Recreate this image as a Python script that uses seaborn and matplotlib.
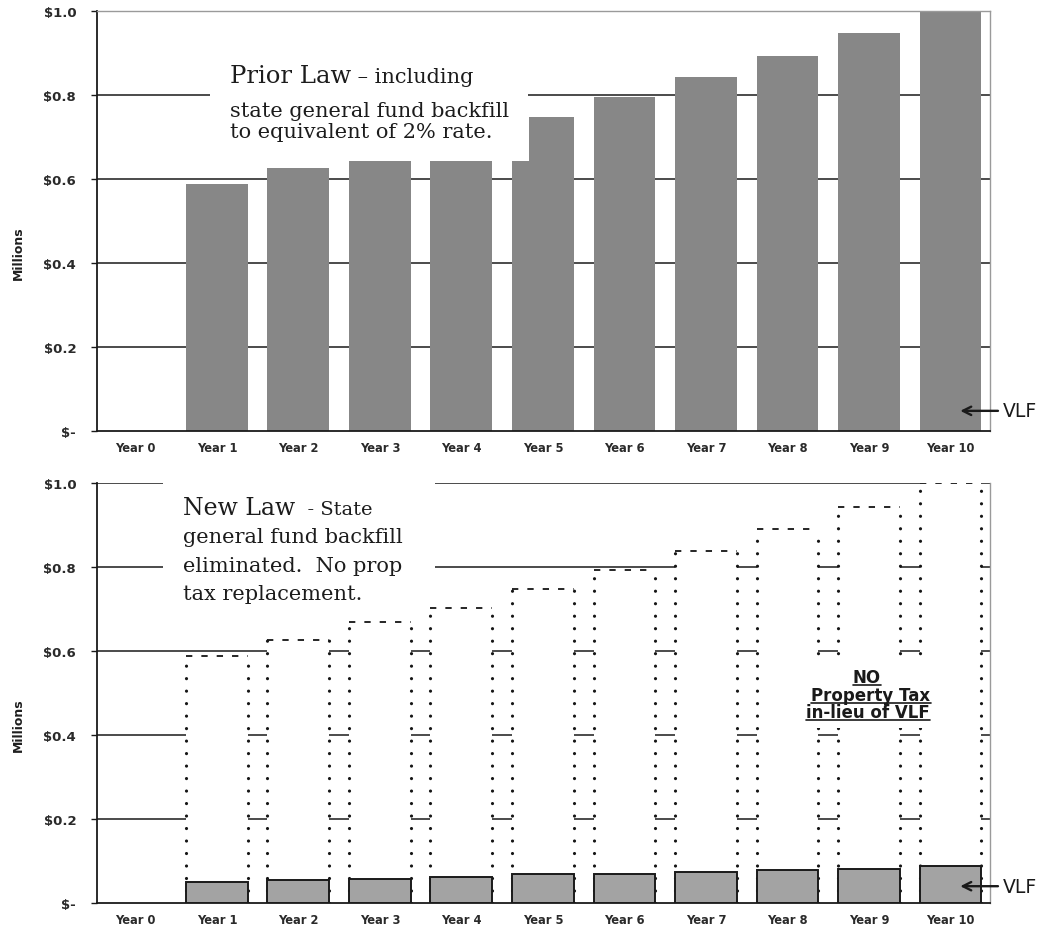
import matplotlib
matplotlib.use("Agg")
import matplotlib.pyplot as plt
import seaborn as sns
from matplotlib.patches import Rectangle
from matplotlib.lines import Line2D

# ---- data -------------------------------------------------------------
years = ["Year 0", "Year 1", "Year 2", "Year 3", "Year 4", "Year 5",
         "Year 6", "Year 7", "Year 8", "Year 9", "Year 10"]
funded_years = years[1:]

# Prior law: VLF plus state general fund backfill ($ millions)
prior_law = [0.588, 0.626, 0.644, 0.644, 0.747, 0.795, 0.842, 0.893, 0.947, 1.000]
prior_law_year5_base = 0.644          # level carried into Year 5 before the step

# New law: what prior law would have paid vs. the VLF that remains
new_law_total = [0.589, 0.627, 0.668, 0.703, 0.748, 0.793, 0.839, 0.890, 0.942, 1.000]
new_law_vlf = [0.050, 0.055, 0.058, 0.062, 0.069, 0.070, 0.075, 0.079, 0.082, 0.089]

y_ticks = [0.0, 0.2, 0.4, 0.6, 0.8, 1.0]
y_tick_labels = ["$-", "$0.2", "$0.4", "$0.6", "$0.8", "$1.0"]

# ---- figure -----------------------------------------------------------
sns.set_style("white")
W, H = 1050, 929
fig = plt.figure(figsize=(W / 100, H / 100), dpi=100)

AX_L, AX_W, AX_H = 97, 893, 420
ax_top = fig.add_axes([AX_L / W, 1 - 432 / H, AX_W / W, AX_H / H])
ax_bot = fig.add_axes([AX_L / W, 1 - 904 / H, AX_W / W, AX_H / H])

INK = "#1a1a1a"
BAR_GREY = "#878787"
BAR_W = 0.76
SANS = "DejaVu Sans"
SERIF = "DejaVu Serif"


def frac(ax_bottom_px, x, y):
    """pixel position -> axes fraction for an axes whose zero line sits at ax_bottom_px"""
    return (x - AX_L) / AX_W, (ax_bottom_px - y) / AX_H


def style_axes(ax):
    ax.set_xlim(-0.472, 10.485)
    ax.set_ylim(0, 1.0)
    ax.set_yticks(y_ticks)
    ax.set_yticklabels(y_tick_labels)
    ax.set_xticks(range(len(years)))
    ax.set_xticklabels(years)
    ax.set_xticks([i + 0.5 for i in range(10)], minor=True)
    ax.set_xlabel("")
    ax.set_ylabel("")
    ax.tick_params(axis="x", which="major", length=0, pad=7)
    ax.tick_params(axis="x", which="minor", length=3, width=1, color=INK, direction="out")
    ax.tick_params(axis="y", which="major", length=4, width=1, color=INK,
                   direction="out", pad=11, left=True)
    for lab in ax.get_xticklabels():
        lab.set_fontfamily(SANS)
        lab.set_fontweight("bold")
        lab.set_fontsize(8.3)
        lab.set_color("#2a2a2a")
    for lab in ax.get_yticklabels():
        lab.set_fontfamily(SANS)
        lab.set_fontweight("bold")
        lab.set_fontsize(9.5)
        lab.set_color("#2a2a2a")
    for side in ("left", "bottom"):
        ax.spines[side].set_color(INK)
        ax.spines[side].set_linewidth(1.3)
    ax.spines["right"].set_color("#9a9a9a")
    ax.spines["right"].set_linewidth(1.0)


# ---- top panel: prior law --------------------------------------------
for g in y_ticks[1:-1]:
    ax_top.axhline(g, color=INK, lw=1.1, zorder=0.5)

sns.barplot(x=funded_years, y=prior_law, order=years, color=BAR_GREY,
            saturation=1, width=BAR_W, linewidth=0, errorbar=None, ax=ax_top)

# Year 5 steps up part-way across the bar
i5 = years.index("Year 5")
for p in ax_top.patches:
    if abs(p.get_x() + p.get_width() / 2 - i5) < 0.01:
        x0, w = p.get_x(), p.get_width()
        ax_top.bar(i5, prior_law_year5_base, width=w, color=BAR_GREY,
                   linewidth=0, zorder=1)
        p.set_x(x0 + 0.21)
        p.set_width(w - 0.21)
        p.set_zorder(1.1)
        break

style_axes(ax_top)
ax_top.spines["top"].set_color("#9a9a9a")
ax_top.spines["top"].set_linewidth(1.0)
ax_top.spines["top"].set_linestyle((0, (1, 1)))

# white panel behind the caption
bx0, by0 = frac(432, 210, 145)
bx1, by1 = frac(432, 528, 30)
ax_top.add_patch(Rectangle((bx0, by0), bx1 - bx0, by1 - by0, transform=ax_top.transAxes,
                           facecolor="white", edgecolor="none", zorder=2.2))

# ---- bottom panel: new law -------------------------------------------
for g in y_ticks[1:]:
    ax_bot.axhline(g, color=INK, lw=1.1, zorder=0.5)

sns.barplot(x=funded_years, y=new_law_total, order=years, color="white",
            saturation=1, width=BAR_W, linewidth=0, errorbar=None, ax=ax_bot)
outline_bars = list(ax_bot.patches)
for p in outline_bars:
    x0, w, h = p.get_x(), p.get_width(), p.get_height()
    for xe in (x0, x0 + w):
        ax_bot.plot([xe, xe], [0, h], color="#151515", lw=2.3,
                    ls=(0, (0.01, 3.9)), dash_capstyle="round", zorder=3)
    ax_bot.plot([x0, x0 + w], [h, h], color="#151515", lw=1.3,
                ls=(0, (3.5, 5.0)), zorder=3)

n_before = len(ax_bot.patches)
sns.barplot(x=funded_years, y=new_law_vlf, order=years, color="#a3a3a3",
            saturation=1, width=BAR_W, edgecolor=INK, linewidth=1.4,
            errorbar=None, ax=ax_bot)
for p in ax_bot.patches[n_before:]:
    p.set_zorder(4)

style_axes(ax_bot)
ax_bot.spines["top"].set_visible(False)

bx0, by0 = frac(904, 163, 610)
bx1, by1 = frac(904, 435, 470)
ax_bot.add_patch(Rectangle((bx0, by0), bx1 - bx0, by1 - by0, transform=ax_bot.transAxes,
                           facecolor="white", edgecolor="none", zorder=2.2, clip_on=False))

nx0, ny0 = frac(904, 795, 729)
nx1, ny1 = frac(904, 945, 660)
ax_bot.add_patch(Rectangle((nx0, ny0), nx1 - nx0, ny1 - ny0, transform=ax_bot.transAxes,
                           facecolor="white", edgecolor="none", zorder=3.5))

# ---- y axis titles ----------------------------------------------------
for yc in (253, 725):
    fig.text(18 / W, 1 - yc / H, "Millions", rotation=90, ha="center", va="center",
             fontfamily=SANS, fontweight="bold", fontsize=9, color="#1f1f1f")

# ---- VLF pointers -------------------------------------------------------
for ax, y_arrow in ((ax_top, 0.048), (ax_bot, 0.040)):
    ax.annotate("VLF", xy=(10.12, y_arrow), xytext=(10.64, y_arrow),
                ha="left", va="center", fontsize=13.5, fontfamily=SANS, color=INK,
                arrowprops=dict(arrowstyle="->", lw=1.7, color=INK,
                                shrinkA=1, shrinkB=0, mutation_scale=15),
                annotation_clip=False, zorder=6)

# ---- captions -------------------------------------------------------------
TXT = "#1c1c1c"
renderer = fig.canvas.get_renderer()


def caption(ax, bottom_px, x, y, head, tail, head_size, tail_size, lines, body_size, line_ys):
    fx, fy = frac(bottom_px, x, y)
    t = ax.text(fx, fy, head, transform=ax.transAxes, fontfamily=SERIF,
                fontsize=head_size, color=TXT, va="baseline", ha="left", zorder=5)
    bb = t.get_window_extent(renderer)
    fx2 = (bb.x1 - ax.get_window_extent(renderer).x0) / AX_W
    ax.text(fx2, fy, tail, transform=ax.transAxes, fontfamily=SERIF,
            fontsize=tail_size, color=TXT, va="baseline", ha="left", zorder=5)
    for s, ly in zip(lines, line_ys):
        lx, lyf = frac(bottom_px, x, ly)
        ax.text(lx, lyf, s, transform=ax.transAxes, fontfamily=SERIF,
                fontsize=body_size, color=TXT, va="baseline", ha="left", zorder=5)


caption(ax_top, 432, 230, 83, "Prior Law", " \u2013 including", 17.5, 15,
        ["state general fund backfill", "to equivalent of 2% rate."], 15, [117, 138])
caption(ax_bot, 904, 183, 515, "New Law", "  - State", 17, 14,
        ["general fund backfill", "eliminated.  No prop", "tax replacement."], 15,
        [543, 572, 600])

# underlined note in the gap left by the missing in-lieu property tax
for s, cx, by in (("NO", 867, 683), ("Property Tax", 871, 701), ("in-lieu of VLF", 868, 718)):
    fx, fy = frac(904, cx, by)
    t = ax_bot.text(fx, fy, s, transform=ax_bot.transAxes, ha="center", va="baseline",
                    fontfamily=SANS, fontweight="bold", fontsize=12, color=INK, zorder=5)
    bb = t.get_window_extent(renderer)
    uy = (H - by - 2.5) / H
    fig.add_artist(Line2D([bb.x0 / W, bb.x1 / W], [uy, uy], transform=fig.transFigure,
                          color=INK, lw=1.2))

fig.savefig("out.png", dpi=100, facecolor="white")
